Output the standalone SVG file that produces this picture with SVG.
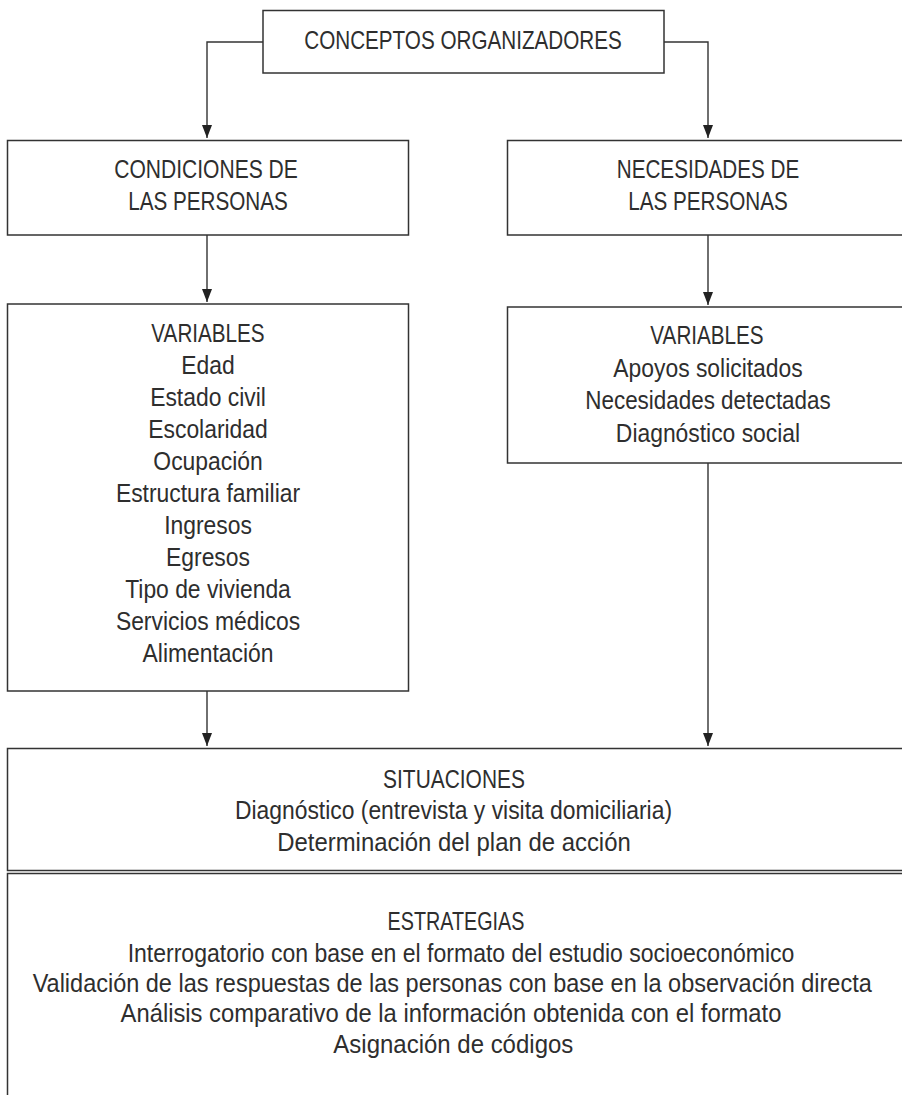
<svg xmlns="http://www.w3.org/2000/svg" width="902" height="1095" viewBox="0 0 902 1095">
<style>
  rect.box { fill: #ffffff; stroke: #333333; stroke-width: 1.5; }
  .conn { fill: none; stroke: #333333; stroke-width: 1.4; }
  text { font-family: "Liberation Sans", Arial, sans-serif; font-size: 26px; fill: #2e2e2e; text-anchor: middle; }
</style>
<defs>
  <marker id="arr" markerUnits="userSpaceOnUse" markerWidth="14" markerHeight="11" refX="13" refY="5" orient="auto">
    <path d="M0,0 L13,5 L0,10 z" fill="#222222"/>
  </marker>
</defs>
<rect x="0" y="0" width="902" height="1095" fill="#ffffff"/>

<g id="connectors">
  <polyline class="conn" points="263,42 207,42 207,138" marker-end="url(#arr)"/>
  <polyline class="conn" points="664,42 708,42 708,138" marker-end="url(#arr)"/>
  <line class="conn" x1="207" y1="235" x2="207" y2="302" marker-end="url(#arr)"/>
  <line class="conn" x1="708" y1="235" x2="708" y2="305" marker-end="url(#arr)"/>
  <line class="conn" x1="207" y1="691" x2="207" y2="746" marker-end="url(#arr)"/>
  <line class="conn" x1="708" y1="463" x2="708" y2="746" marker-end="url(#arr)"/>
</g>

<g id="conceptos">
  <rect class="box" x="263" y="10.5" width="401" height="62.5"/>
  <text transform="matrix(0.795 0 0 1 463 49)">CONCEPTOS ORGANIZADORES</text>
</g>

<g id="condiciones">
  <rect class="box" x="7.5" y="140.5" width="401" height="94.5"/>
  <text transform="matrix(0.81 0 0 1 206 178)">CONDICIONES DE</text>
  <text transform="matrix(0.795 0 0 1 208 210)">LAS PERSONAS</text>
</g>

<g id="necesidades">
  <rect class="box" x="507.5" y="140.5" width="410" height="94.5"/>
  <text transform="matrix(0.795 0 0 1 708 178)">NECESIDADES DE</text>
  <text transform="matrix(0.795 0 0 1 708 210)">LAS PERSONAS</text>
</g>

<g id="variables-condiciones">
  <rect class="box" x="7.5" y="304" width="401" height="387"/>
  <text transform="matrix(0.795 0 0 1 208 341.7)">VARIABLES</text>
  <text transform="matrix(0.88 0 0 1 208 373.7)">Edad</text>
  <text transform="matrix(0.88 0 0 1 208 405.7)">Estado civil</text>
  <text transform="matrix(0.88 0 0 1 208 437.7)">Escolaridad</text>
  <text transform="matrix(0.88 0 0 1 208 469.7)">Ocupación</text>
  <text transform="matrix(0.88 0 0 1 208 501.7)">Estructura familiar</text>
  <text transform="matrix(0.88 0 0 1 208 533.7)">Ingresos</text>
  <text transform="matrix(0.88 0 0 1 208 565.7)">Egresos</text>
  <text transform="matrix(0.88 0 0 1 208 597.7)">Tipo de vivienda</text>
  <text transform="matrix(0.88 0 0 1 208 629.7)">Servicios médicos</text>
  <text transform="matrix(0.88 0 0 1 208 661.7)">Alimentación</text>
</g>

<g id="variables-necesidades">
  <rect class="box" x="507.5" y="307" width="410" height="156"/>
  <text transform="matrix(0.795 0 0 1 707 344)">VARIABLES</text>
  <text transform="matrix(0.88 0 0 1 708 376.5)">Apoyos solicitados</text>
  <text transform="matrix(0.862 0 0 1 708 409)">Necesidades detectadas</text>
  <text transform="matrix(0.88 0 0 1 708 441.5)">Diagnóstico social</text>
</g>

<g id="situaciones">
  <rect class="box" x="7.5" y="748.5" width="910" height="122"/>
  <text transform="matrix(0.805 0 0 1 454 787.5)">SITUACIONES</text>
  <text transform="matrix(0.88 0 0 1 453.5 819.3)">Diagnóstico (entrevista y visita domiciliaria)</text>
  <text transform="matrix(0.92 0 0 1 454 850.5)">Determinación del plan de acción</text>
</g>

<g id="estrategias">
  <rect class="box" x="7.5" y="873.5" width="910" height="240"/>
  <text transform="matrix(0.76 0 0 1 456 929.5)">ESTRATEGIAS</text>
  <text transform="matrix(0.886 0 0 1 461 961.5)">Interrogatorio con base en el formato del estudio socioeconómico</text>
  <text transform="matrix(0.904 0 0 1 452.2 991.7)">Validación de las respuestas de las personas con base en la observación directa</text>
  <text transform="matrix(0.915 0 0 1 451 1022.3)">Análisis comparativo de la información obtenida con el formato</text>
  <text transform="matrix(0.923 0 0 1 453.3 1052.7)">Asignación de códigos</text>
</g>
</svg>
